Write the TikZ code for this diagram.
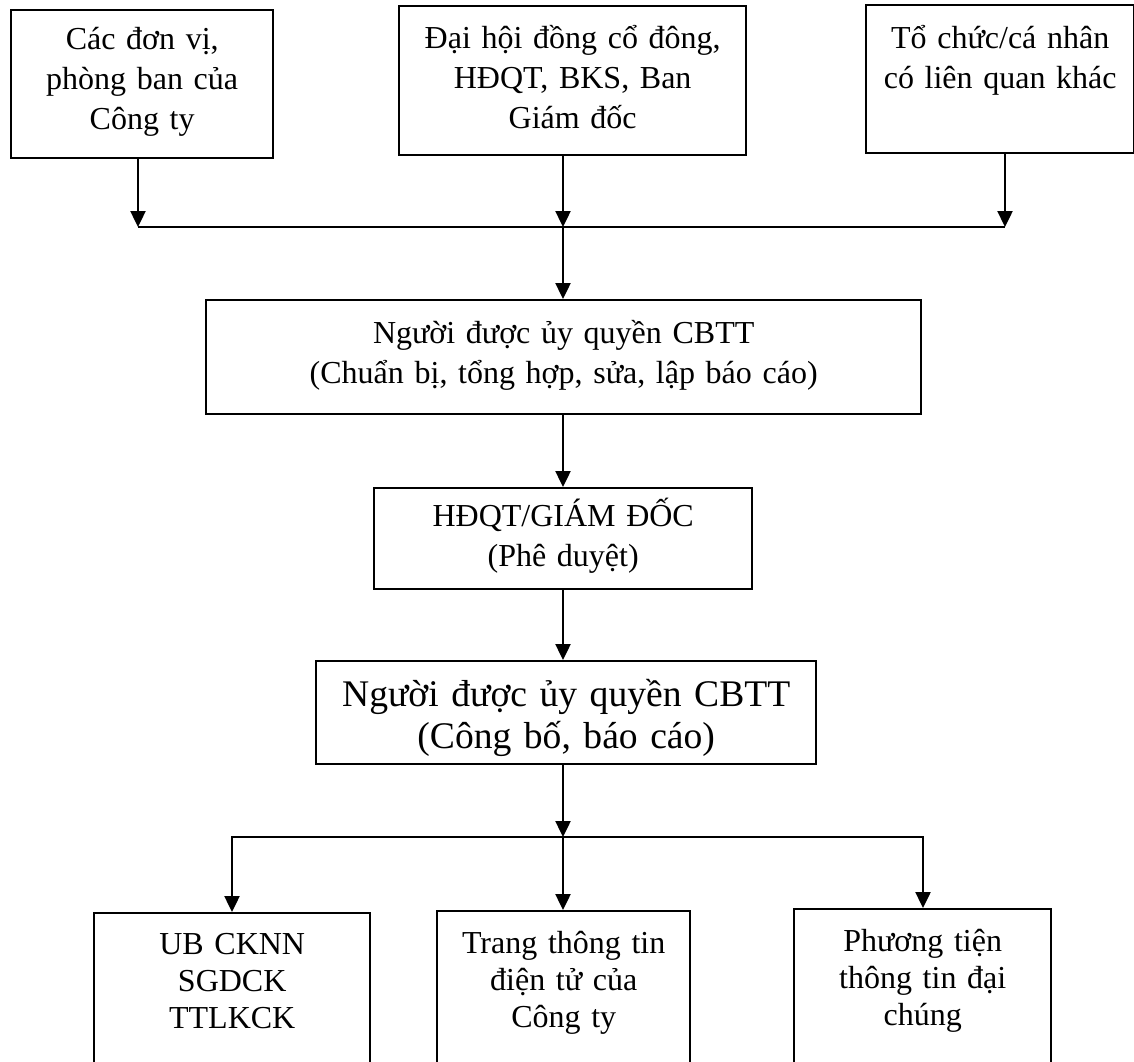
\documentclass[tikz,border=0pt]{standalone}
\usepackage{fontspec}
\setmainfont{Liberation Serif}
\usetikzlibrary{arrows.meta}

\begin{document}
\begin{tikzpicture}
	[x=0.5pt,y=-0.5pt,line width=1.2pt,>={Triangle[width=7.5pt,length=8pt]},
		box/.style={draw,rectangle,anchor=north west,inner sep=0pt,align=center,font=\fontsize{16pt}{20pt}\selectfont},
		big box/.style={box,font=\fontsize{18.8pt}{21pt}\selectfont},
		low box/.style={box,font=\fontsize{16pt}{18.5pt}\selectfont}]

	\useasboundingbox (0,0) rectangle (1134,1061);
	\clip (0,0) rectangle (1134,1061);

	\node[box, text width=131pt, text height=19.5pt, text depth=54.5pt] (DV) at (10,9) {Các đơn vị,\\phòng ban của\\Công ty};
	\node[box, text width=173.5pt, text height=21pt, text depth=53.5pt] (DH) at (398,5) {Đại hội đồng cổ đông,\\HĐQT, BKS, Ban\\Giám đốc};
	\node[box, text width=134pt, text height=21.5pt, text depth=52.5pt] (TC) at (865,4) {Tổ chức/cá nhân\\có liên quan khác};
	\node[box, text width=357.5pt, text height=21.5pt, text depth=35.5pt] (NUQ1) at (205,299) {Người được ủy quyền CBTT\\(Chuẩn bị, tổng hợp, sửa, lập báo cáo)};
	\node[box, text width=189pt, text height=19pt, text depth=31.5pt] (HDQT) at (373,487) {HĐQT/GIÁM ĐỐC\\(Phê duyệt)};
	\node[big box, text width=250pt, text height=22.5pt, text depth=29pt] (NUQ2) at (315,660) {Người được ủy quyền CBTT\\(Công bố, báo cáo)};
	\node[low box, text width=138pt, text height=20.5pt, text depth=54.5pt] (UB) at (93,912) {UB CKNN\\SGDCK\\TTLKCK};
	\node[low box, text width=126.5pt, text height=21pt, text depth=55pt] (WEB) at (436,910) {Trang thông tin\\điện tử của\\Công ty};
	\node[low box, text width=128.5pt, text height=21pt, text depth=56pt] (PT) at (793,908) {Phương tiện\\thông tin đại\\chúng};

	\coordinate (t1) at (138,227);
	\coordinate (t2) at (563,227);
	\coordinate (t3) at (1005,227);
	\coordinate (b1) at (232,837);
	\coordinate (b2) at (563,837);
	\coordinate (b3) at (923,837);

	\draw[->] (DV.south -| t1) -- (t1);
	\draw[->] (DH.south -| t2) -- (t2);
	\draw[->] (TC.south -| t3) -- (t3);
	\draw (t1) -- (t3);
	\draw[->] (t2) -- (t2 |- NUQ1.north);
	\draw[->] (NUQ1.south -| t2) -- (t2 |- HDQT.north);
	\draw[->] (HDQT.south -| t2) -- (t2 |- NUQ2.north);
	\draw[->] (NUQ2.south -| b2) -- (b2);
	\draw[->] (b2) -| (b1 |- UB.north);
	\draw[->] (b2) -- (b2 |- WEB.north);
	\draw[->] (b2) -| (b3 |- PT.north);

\end{tikzpicture}
\end{document}
